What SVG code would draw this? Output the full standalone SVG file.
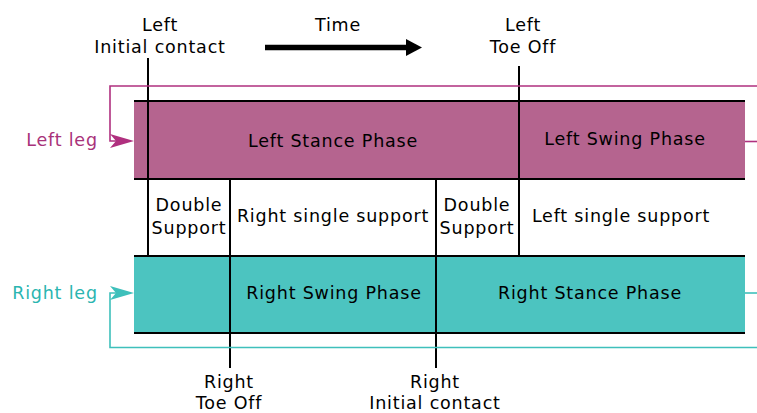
<svg xmlns="http://www.w3.org/2000/svg" width="757" height="413" viewBox="0 0 757 413">
<style>
text{font-family:"DejaVu Sans","Liberation Sans",sans-serif;font-size:17.5px;letter-spacing:0.8px;text-anchor:middle;fill:#000}
.edge{stroke:#000;stroke-width:2;fill:none}
.mag{stroke:#B0307F;stroke-width:1.6;fill:none}
.teal{stroke:#3EC0BB;stroke-width:1.6;fill:none}
</style>
<rect width="757" height="413" fill="#fff"/>
<g id="left-band">
<rect x="134" y="101" width="611" height="78" fill="#B5648F"/>
<line class="edge" x1="134" y1="101" x2="745" y2="101"/>
<line class="edge" x1="134" y1="179" x2="745" y2="179"/>
<text x="333" y="147">Left Stance Phase</text>
<text x="625" y="145">Left Swing Phase</text>
</g>
<g id="right-band">
<rect x="134" y="256" width="611" height="77" fill="#4CC4C0"/>
<line class="edge" x1="134" y1="256" x2="745" y2="256"/>
<line class="edge" x1="134" y1="333" x2="745" y2="333"/>
<text x="334" y="299">Right Swing Phase</text>
<text x="590" y="299">Right Stance Phase</text>
</g>
<g id="support">
<text x="189" y="211">Double</text>
<text x="189" y="234">Support</text>
<text x="333" y="222">Right single support</text>
<text x="477" y="211">Double</text>
<text x="477" y="234">Support</text>
<text x="621" y="222">Left single support</text>
</g>
<g id="labels">
<text x="160" y="31">Left</text>
<text x="160" y="53">Initial contact</text>
<text x="338" y="31">Time</text>
<text x="523" y="31">Left</text>
<text x="523" y="53">Toe Off</text>
<text x="229" y="388">Right</text>
<text x="229" y="409">Toe Off</text>
<text x="435" y="388">Right</text>
<text x="435" y="409">Initial contact</text>
<text x="62" y="146" style="fill:#A8327A">Left leg</text>
<text x="55" y="299" style="fill:#2BB5B0">Right leg</text>
</g>
<g id="connectors">
<line class="edge" x1="148" y1="58" x2="148" y2="255"/>
<line class="edge" x1="519" y1="66" x2="519" y2="255"/>
<line class="edge" x1="230" y1="179" x2="230" y2="368"/>
<line class="edge" x1="436" y1="179" x2="436" y2="368"/>
<polyline class="mag" points="757,86 110,86 110,141 120,141"/>
<line class="mag" x1="745" y1="141.5" x2="757" y2="141.5"/>
<path d="M134,141 L110,134 L116,141 L110,148 Z" fill="#B0307F"/>
<polyline class="teal" points="757,347.5 110,347.5 110,293 120,293"/>
<line class="teal" x1="745" y1="293" x2="757" y2="293"/>
<path d="M134,293 L110,286 L116,293 L110,300 Z" fill="#3EC0BB"/>
<line x1="265" y1="47.5" x2="408" y2="47.5" stroke="#000" stroke-width="5.5"/>
<path d="M422,47.5 L406,39 L406,56 Z" fill="#000"/>
</g>
</svg>
